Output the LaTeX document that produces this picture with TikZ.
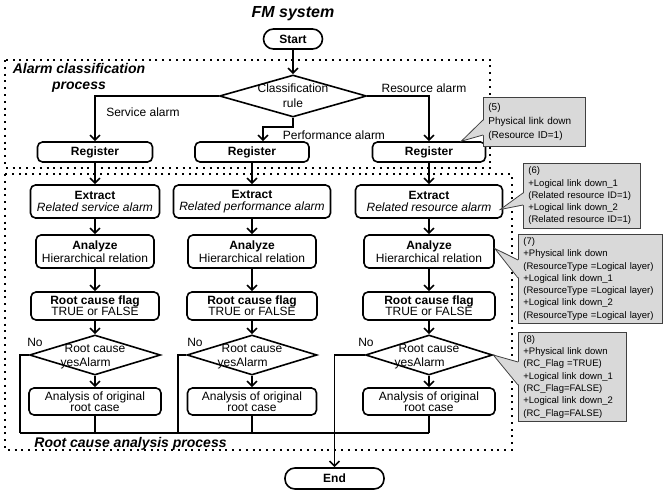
\documentclass[tikz,border=0pt]{standalone}
\usepackage{fontspec}
\setmainfont{Liberation Sans}
\usetikzlibrary{arrows.meta,shapes.geometric,positioning}

\begin{document}
\begin{tikzpicture}[x=1pt,y=-1pt,
    font=\fontsize{12}{12.5}\selectfont,
    flowline/.style={line width=1.6pt,-{Straight Barb[length=5pt,width=10pt]}},
    busline/.style={line width=1.4pt},
    areabox/.style={line width=2pt,dash pattern=on 2pt off 4.8pt},
    procbox/.style={draw,line width=1.6pt,rounded corners=5pt,align=center,inner sep=1pt},
    termbox/.style={draw,line width=1.6pt,rounded corners=10pt,inner sep=1pt,font=\fontsize{12}{12.5}\selectfont\bfseries},
    choicebox/.style={draw,diamond,line width=1.6pt,inner sep=0pt},
    notebox/.style={draw=black!75,fill=black!15,line width=0.8pt,anchor=north west,align=left,
      inner xsep=5pt,inner ysep=3pt,font=\fontsize{9.5}{12.3}\selectfont},
    areatext/.style={font=\fontsize{14}{15.5}\selectfont\bfseries\itshape,align=center}]
  \useasboundingbox (0,0) rectangle (665,490);

  % dotted process areas
  \draw[areabox] (5,60) rectangle (490,168);
  \draw[areabox] (5,174) rectangle (512,450);
  \node (lclass) [areatext] at (79,78) {Alarm classification\\process};
  \node (lroot) [areatext] at (130.5,444) {Root cause analysis process};

  % title, start and end
  \node (title) at (293,14) {\fontsize{16}{18}\selectfont\bfseries\itshape FM system};
  \node (start) [termbox,minimum width=59pt,minimum height=20pt] at (293,39) {Start};
  \node (end) [termbox,minimum width=99pt,minimum height=21pt] at (334.5,478.5) {End};
  \node (crule) [choicebox,minimum width=147pt,minimum height=42pt,
    label={[align=center,font=\fontsize{12}{15}\selectfont]center:Classification\\rule}] at (293,96) {};

  % three columns
  \begin{scope}[every node/.style={procbox}]
    \node (reg1) [minimum width=115pt,minimum height=20pt] at (95,152) {\bfseries Register};
    \node (reg2) [minimum width=114pt,minimum height=20pt] at (252,152) {\bfseries Register};
    \node (reg3) [minimum width=113pt,minimum height=20pt] at (429,152) {\bfseries Register};
    \node (ext1) [minimum width=129pt,minimum height=33pt] at (95,201.5) {\bfseries Extract\\\itshape Related service alarm};
    \node (ext2) [minimum width=157pt,minimum height=33pt] at (252,201.5) {\bfseries Extract\\\itshape Related performance alarm};
    \node (ext3) [minimum width=147pt,minimum height=33pt] at (429,201.5) {\bfseries Extract\\\itshape Related resource alarm};
    \node (ana1) [minimum width=118pt,minimum height=33pt] at (95,251.5) {\bfseries Analyze\\Hierarchical relation};
    \node (ana2) [minimum width=128pt,minimum height=33pt] at (252,251.5) {\bfseries Analyze\\Hierarchical relation};
    \node (ana3) [minimum width=130pt,minimum height=33pt] at (429,251.5) {\bfseries Analyze\\Hierarchical relation};
    \node (flag1) [minimum width=128pt,minimum height=28pt,font=\fontsize{12}{11}\selectfont] at (95,306) {\bfseries Root cause flag\\TRUE or FALSE};
    \node (flag2) [minimum width=130pt,minimum height=28pt,font=\fontsize{12}{11}\selectfont] at (252,306) {\bfseries Root cause flag\\TRUE or FALSE};
    \node (flag3) [minimum width=132pt,minimum height=28pt,font=\fontsize{12}{11}\selectfont] at (429,306) {\bfseries Root cause flag\\TRUE or FALSE};
    \node (anl1) [minimum width=132pt,minimum height=27pt,font=\fontsize{12}{11}\selectfont] at (95,401.5) {Analysis of original\\root case};
    \node (anl2) [minimum width=129pt,minimum height=27pt,font=\fontsize{12}{11}\selectfont] at (252,401.5) {Analysis of original\\root case};
    \node (anl3) [minimum width=132pt,minimum height=27pt,font=\fontsize{12}{11}\selectfont] at (429,401.5) {Analysis of original\\root case};
  \end{scope}
  \begin{scope}[every label/.style={align=center,font=\fontsize{12}{14}\selectfont}]
    \node (dia1) [choicebox,minimum width=131pt,minimum height=40pt,label=center:Root cause\\Alarm] at (95,355) {};
    \node (dia2) [choicebox,minimum width=130pt,minimum height=40pt,label=center:Root cause\\Alarm] at (252,355) {};
    \node (dia3) [choicebox,minimum width=127pt,minimum height=40pt,label=center:Root cause\\Alarm] at (429,355) {};
  \end{scope}
  \foreach \c in {1,2,3} {
    \node (yes\c) [anchor=base east,inner sep=0pt] at ([xshift=-15.5pt,yshift=-11.3pt]dia\c.center) {yes};
  }

  % labels
  \node (lserv) at (143,112) {Service alarm};
  \node (lperf) at (334,135) {Performance alarm};
  \node (lres) at (424,88) {Resource alarm};
  \node (no1) at (35,342) {No};
  \node (no2) at (195,342) {No};
  \node (no3) at (366,342) {No};

  % connectors
  \coordinate (perfbend) at (263,127);
  \coordinate (bus1) at (20,433);
  \coordinate (bus2) at (178,433);
  \draw[flowline] (start) -- (crule);
  \draw[flowline] (crule.west) -| (reg1.north);
  \draw[flowline] (crule.south) |- (perfbend) -- (perfbend |- reg2.north);
  \draw[flowline] (crule.east) -| (reg3.north);
  \foreach \c in {1,2,3} {
    \draw[flowline] (reg\c) -- (ext\c);
    \draw[flowline] (ext\c) -- (ana\c);
    \draw[flowline] (ana\c) -- (flag\c);
    \draw[flowline] (flag\c) -- (dia\c);
    \draw[flowline] (dia\c) -- (anl\c);
    \draw[busline] (anl\c.south) -- (anl\c.south |- bus1);
  }
  \draw[busline] (dia1.west) -| (bus1);
  \draw[busline] (dia2.west) -| (bus2);
  \draw[busline] (bus1) -- (anl3.south |- bus1);
  \draw[flowline] (dia3.west) -| (end.north);

  % notes
  \coordinate (tip5) at ([xshift=-25pt]reg3.north east);
  \coordinate (tip6) at ([xshift=-3pt,yshift=-8pt]ext3.east);
  \coordinate (tip7) at ([yshift=3pt]ana3.east);
  \coordinate (tip8) at (dia3.east);
  \node (note5) [notebox,text width=92pt,minimum height=49pt,font=\fontsize{10}{14}\selectfont] at (483,97)
    {(5)\\Physical link down\\(Resource ID=1)};
  \node (note6) [notebox,text width=107pt,minimum height=65pt] at (523,163)
    {(6)\\+Logical link down\_1\\(Related resource ID=1)\\+Logical link down\_2\\(Related resource ID=1)};
  \node (note7) [notebox,text width=134pt,minimum height=89pt] at (518,234)
    {(7)\\+Physical link down\\(ResourceType =Logical layer)\\+Logical link down\_1\\(ResourceType =Logical layer)\\+Logical link down\_2\\(ResourceType =Logical layer)};
  \node (note8) [notebox,text width=98pt,minimum height=88pt] at (518,332)
    {(8)\\+Physical link down\\(RC\_Flag =TRUE)\\+Logical link down\_1\\(RC\_Flag=FALSE)\\+Logical link down\_2\\(RC\_Flag=FALSE)};
  \foreach \n/\a/\b in {5/23/38,6/30/42,7/26/44,8/30/53} {
    \fill[black!15] (tip\n) -- ([xshift=1pt,yshift=-\a pt]note\n.north west) -- ([xshift=1pt,yshift=-\b pt]note\n.north west) -- cycle;
    \draw[draw=black!75,line width=0.8pt] ([yshift=-\a pt]note\n.north west) -- (tip\n) -- ([yshift=-\b pt]note\n.north west);
  }
\end{tikzpicture}
\end{document}
